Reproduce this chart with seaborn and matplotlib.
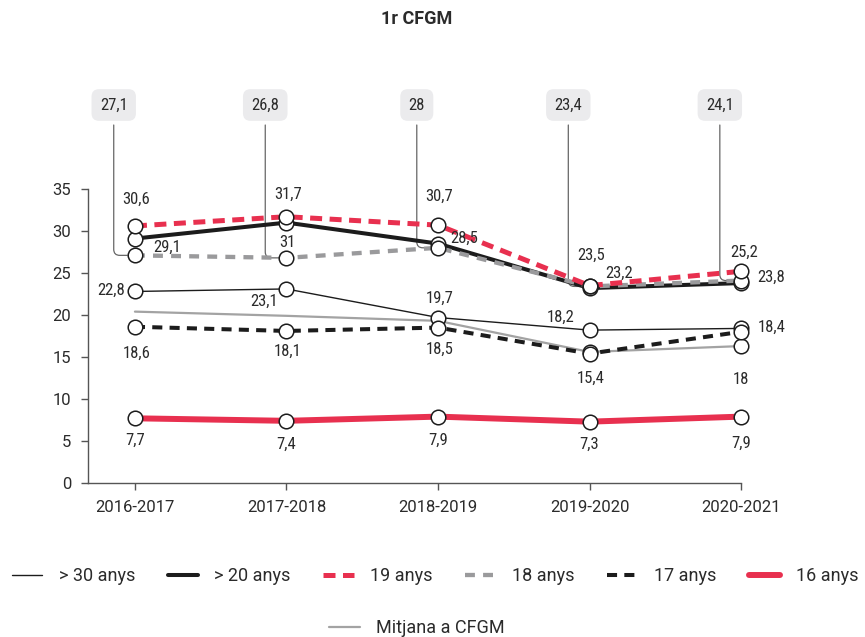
import numpy as np
import pandas as pd
import seaborn as sns
import matplotlib
matplotlib.use("Agg")
from matplotlib import pyplot as plt
from matplotlib import font_manager

# data
years = ["2016-2017", "2017-2018", "2018-2019", "2019-2020", "2020-2021"]
over30 = [22.8, 23.1, 19.7, 18.2, 18.4]
over20 = [29.1, 31.0, 28.5, 23.2, 23.8]
age19 = [30.6, 31.7, 30.7, 23.5, 25.2]
age18 = [27.1, 26.8, 28.0, 23.4, 24.1]
age17 = [18.6, 18.1, 18.5, 15.4, 18.0]
age16 = [7.7, 7.4, 7.9, 7.3, 7.9]
mitjana = [20.4, 19.9, 19.3, 15.6, 16.3]

RED = "#e8304f"
GRAY = "#9a9a9c"
BLACK = "#1c1c1c"
TXT = "#2b2b2b"

sns.set_theme(style="white")
names = {f.name for f in font_manager.fontManager.ttflist}
base_font = "Roboto" if "Roboto" in names else "DejaVu Sans"
if "Roboto Condensed" in names:
    lab_font, lab_size = "Roboto Condensed", 12
else:
    lab_font, lab_size = base_font, 11
plt.rcParams["font.family"] = [base_font, "DejaVu Sans"]

fig = plt.figure(figsize=(8.65, 6.37), dpi=100)
ax = fig.add_axes([0.1017, 0.2418, 0.755, 0.4615])

x = np.arange(len(years))

# label, values, color, width, dashes, zorder
series = [
    ("> 30 anys", over30, BLACK, 1.0, None, 2),
    ("Mitjana a CFGM", mitjana, "#a3a3a3", 1.6, None, 2.1),
    ("17 anys", age17, BLACK, 2.9, (2.5, 1.8), 2.2),
    ("> 20 anys", over20, BLACK, 2.9, None, 2.3),
    ("18 anys", age18, GRAY, 3.1, (2.3, 1.9), 2.4),
    ("19 anys", age19, RED, 3.6, (2.4, 1.5), 2.5),
    ("16 anys", age16, RED, 4.3, None, 2.6),
]

handles = {}
for name, vals, col, lw, dash, z in series:
    df = pd.DataFrame({"x": x, "y": vals})
    sns.lineplot(data=df, x="x", y="y", ax=ax, color=col, linewidth=lw,
                 legend=False, zorder=z, clip_on=False)
    line = ax.lines[-1]
    if dash is not None:
        line.set_dashes(dash)
    handles[name] = line

# circle markers on top of every series (average line has none on the first points)
pts = []
for name, vals, col, lw, dash, z in series:
    for i, v in enumerate(vals):
        if name == "Mitjana a CFGM" and i < 3:
            continue
        pts.append((i, v))
pts = pd.DataFrame(pts, columns=["x", "y"])
sns.scatterplot(data=pts, x="x", y="y", ax=ax, s=110, color="white",
                edgecolor=BLACK, linewidth=1.1, zorder=10, clip_on=False,
                legend=False)

# value labels (offsets in points)
label_sets = [
    (age19, [(1, 19), (1, 16), (1, 21), (1, 22), (2, 14)]),
    (over20, [(23, -6), (1, -14), (19, 4), (21, 11), (22, 4)]),
    (over30, [(-17, 1), (-16, -9), (1, 14), (-21, 9), (22, 1)]),
    (age17, [(1, -19), (1, -15), (1, -16), (1, -18), (0, -34)]),
    (age16, [(0, -16), (0, -17), (0, -17), (0, -16), (0, -19)]),
]


def fmt(v):
    s = ("%.1f" % v).rstrip("0").rstrip(".")
    return s.replace(".", ",")


for vals, offs in label_sets:
    for i, (v, off) in enumerate(zip(vals, offs)):
        ax.annotate(fmt(v), xy=(i, v), xytext=off, textcoords="offset points",
                    ha="center", va="center", fontsize=lab_size,
                    family=lab_font, color=TXT, annotation_clip=False,
                    zorder=12)

# 18 anys values shown in boxes above the plot
for i, v in enumerate(age18):
    ax.annotate(fmt(v), xy=(i, v), xytext=(i - 0.14, 45.0), textcoords="data",
                ha="center", va="center", fontsize=lab_size, family=lab_font,
                color=TXT, annotation_clip=False,
                bbox=dict(boxstyle="round,pad=0.5,rounding_size=0.45",
                          fc="#ebebed", ec="none"),
                arrowprops=dict(arrowstyle="-", color="#666666", lw=0.9,
                                connectionstyle="angle,angleA=90,angleB=0,rad=6",
                                shrinkA=3, shrinkB=5.5),
                zorder=1)

ax.set_xlim(-0.31, 4)
ax.set_ylim(0, 35)
ax.set_xticks(x)
ax.set_xticklabels(years)
ax.set_yticks(np.arange(0, 36, 5))
ax.set_xlabel("")
ax.set_ylabel("")
sns.despine(ax=ax)
for sp in ["left", "bottom"]:
    ax.spines[sp].set_color("#555555")
    ax.spines[sp].set_linewidth(1.0)
ax.tick_params(axis="both", which="both", direction="out", length=5,
               width=1.0, color="#555555", labelsize=12, labelcolor=TXT,
               bottom=True, left=True)
ax.tick_params(axis="x", pad=7)
ax.tick_params(axis="y", pad=7)
ax.grid(False)

fig.text(0.482, 0.970, "1r CFGM", ha="center", va="center", fontsize=13,
         fontweight="bold", color=TXT)

order = ["> 30 anys", "> 20 anys", "19 anys", "18 anys", "17 anys", "16 anys"]
fig.legend([handles[k] for k in order], order, ncol=6, loc="center",
           bbox_to_anchor=(0.503, 1 - 576 / 637), frameon=False, fontsize=13,
           handlelength=1.7, handletextpad=0.9, columnspacing=1.8,
           borderpad=0, borderaxespad=0, labelcolor=TXT)
fig.legend([handles["Mitjana a CFGM"]], ["Mitjana a CFGM"], loc="center",
           bbox_to_anchor=(0.482, 1 - 628 / 637), frameon=False, fontsize=13,
           handlelength=1.7, handletextpad=0.9, borderpad=0, borderaxespad=0,
           labelcolor=TXT)

fig.savefig("out.png", dpi=100)
